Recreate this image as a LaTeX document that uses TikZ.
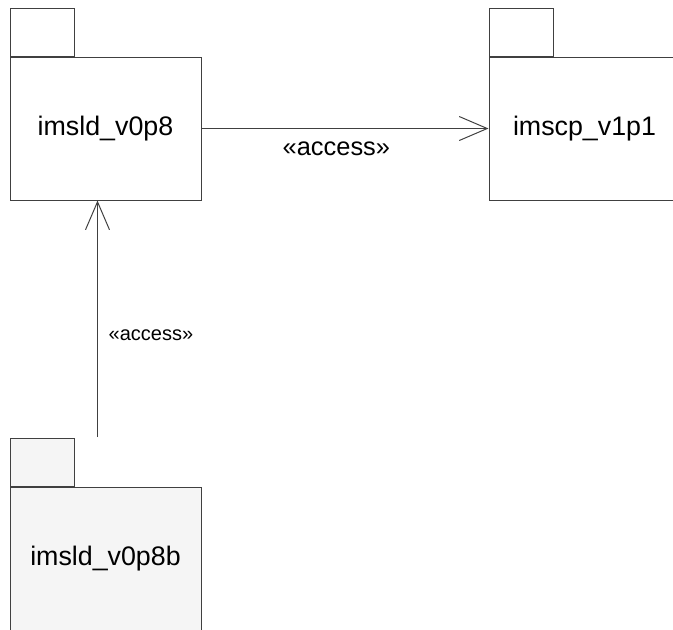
\documentclass[tikz,border=0pt]{standalone}
\usepackage{fontspec}
\setmainfont{Liberation Sans}
\usetikzlibrary{arrows.meta, positioning, calc}
\tikzstyle{pkgBody} = [rectangle, minimum width=95.5pt, minimum height=71.5pt, text centered, draw=black!75, line width=0.5pt, font=\fontsize{13.4}{16}\selectfont]
\tikzstyle{pkgTab} = [rectangle, minimum width=32pt, minimum height=24pt, inner sep=0pt, anchor=south west, draw=black!75, line width=0.5pt]
\tikzstyle{arrowAccess} = [line width=0.5pt, draw=black!75, -{Straight Barb[length=14pt, width=12pt]}]
\tikzstyle{accessBig} = [font=\fontsize{12.7}{15}\selectfont]
\tikzstyle{accessSmall} = [font=\fontsize{10}{12}\selectfont]

\begin{document}
\begin{tikzpicture}[x=0.5pt, y=-0.5pt]

    \clip (0,0) rectangle (673,629);
    \fill [white] (0,0) rectangle (673,629);

    % packages
    \node (ldBody) [pkgBody] at (105.5,128.5) {imsld\_v0p8};
    \node (ldTab) [pkgTab] at (ldBody.north west) {};

    \node (cpBody) [pkgBody] at (584.5,128.5) {imscp\_v1p1};
    \node (cpTab) [pkgTab] at (cpBody.north west) {};

    \node (ldbBody) [pkgBody, fill=black!4] at (105.5,558.5) {imsld\_v0p8b};
    \node (ldbTab) [pkgTab, fill=black!4] at (ldbBody.north west) {};

    % dependencies
    \draw [arrowAccess] (ldBody) -- node[accessBig, pos=0.47, below=3pt] {«access»} (cpBody);

    \coordinate (ldbTail) at (97.5,437);
    \draw [arrowAccess] (ldbTail) -- node[accessSmall, pos=0.43, right=2pt] {«access»} (ldbTail |- ldBody.south);

\end{tikzpicture}
\end{document}
